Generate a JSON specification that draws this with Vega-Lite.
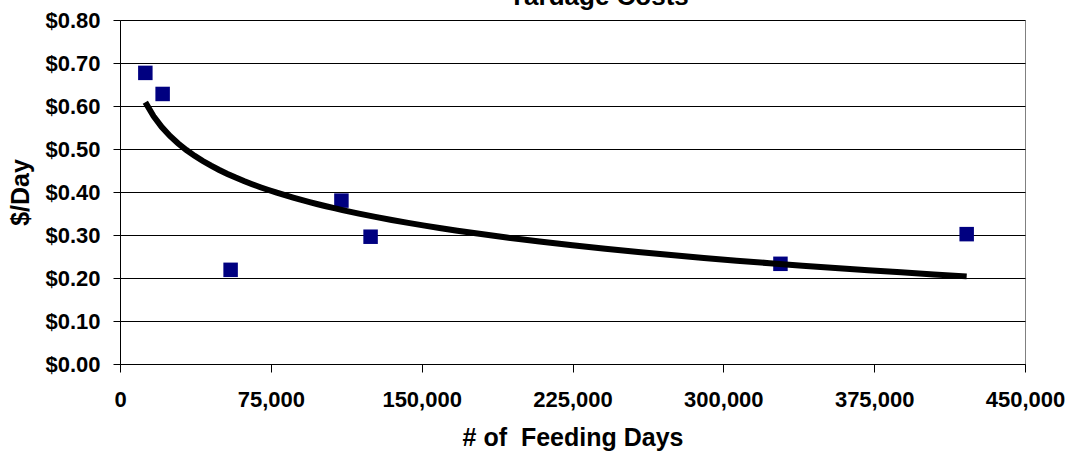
{
  "$schema": "https://vega.github.io/schema/vega-lite/v6.json",
  "width": 905,
  "height": 344,
  "autosize": {"type": "none"},
  "padding": {"left": 120, "top": 20, "right": 45, "bottom": 92},
  "background": "#ffffff",
  "title": {
    "text": "Yardage Costs",
    "font": "Liberation Sans",
    "fontWeight": "bold",
    "fontSize": 26,
    "color": "#000000",
    "anchor": "middle",
    "baseline": "bottom",
    "dx": 26,
    "offset": -27
  },
  "data": {
    "values": [
      {"days": 12600, "cost": 0.677},
      {"days": 21200, "cost": 0.628},
      {"days": 55000, "cost": 0.219},
      {"days": 110100, "cost": 0.380},
      {"days": 124600, "cost": 0.296},
      {"days": 328400, "cost": 0.233},
      {"days": 421000, "cost": 0.302}
    ]
  },
  "layer": [
    {
      "mark": {"type": "point", "shape": "square", "filled": true, "size": 210, "color": "#000080", "opacity": 1, "strokeWidth": 0},
      "encoding": {
        "x": {"field": "days", "type": "quantitative"},
        "y": {"field": "cost", "type": "quantitative"}
      }
    },
    {
      "transform": [{"regression": "cost", "on": "days", "method": "log"}],
      "mark": {"type": "line", "color": "#000000", "strokeWidth": 6},
      "encoding": {
        "x": {"field": "days", "type": "quantitative"},
        "y": {"field": "cost", "type": "quantitative"}
      }
    }
  ],
  "encoding": {
    "x": {
      "field": "days",
      "type": "quantitative",
      "scale": {"domain": [0, 450000], "nice": false, "zero": true},
      "axis": {
        "title": "# of \u00a0Feeding Days",
        "values": [0, 75000, 150000, 225000, 300000, 375000, 450000],
        "format": ",.0f",
        "grid": false,
        "tickSize": 8,
        "labelPadding": 17,
        "labelFlush": false,
        "labelOverlap": false,
        "titlePadding": 15
      }
    },
    "y": {
      "field": "cost",
      "type": "quantitative",
      "scale": {"domain": [0, 0.8], "nice": false},
      "axis": {
        "title": "$/Day",
        "values": [0, 0.1, 0.2, 0.3, 0.4, 0.5, 0.6, 0.7, 0.8],
        "format": "$.2f",
        "grid": true,
        "tickSize": 7,
        "labelPadding": 13,
        "labelOverlap": false,
        "titlePadding": 11
      }
    }
  },
  "config": {
    "view": {"stroke": "#808080", "strokeWidth": 1},
    "axis": {
      "labelFont": "Liberation Sans",
      "labelFontWeight": "bold",
      "labelFontSize": 22,
      "labelColor": "#000000",
      "titleFont": "Liberation Sans",
      "titleFontWeight": "bold",
      "titleFontSize": 25,
      "titleColor": "#000000",
      "domainColor": "#000000",
      "tickColor": "#000000",
      "gridColor": "#000000",
      "gridOpacity": 1,
      "domainWidth": 1,
      "tickWidth": 1,
      "gridWidth": 1
    }
  }
}
